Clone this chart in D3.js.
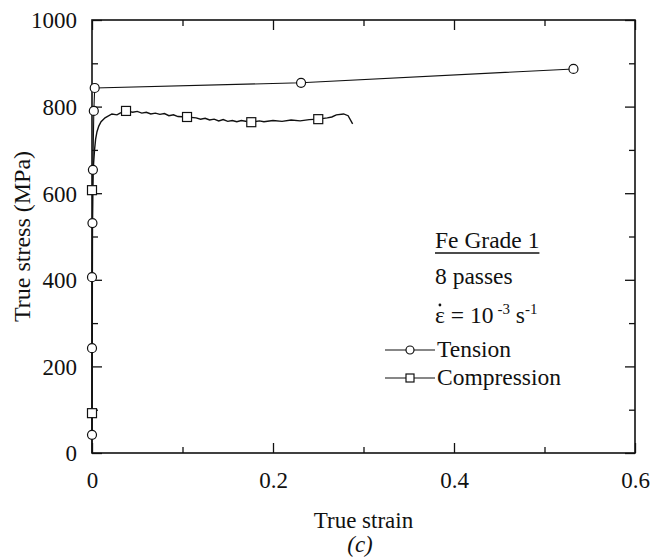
<!DOCTYPE html>
<html lang="en">
  <head>
    <meta charset="utf-8" />
    <title>True stress vs true strain</title>
    <script src="https://d3js.org/d3.v7.min.js"></script>
    <style type="text/css">
      body {
        margin: 0;
        background: #fff;
      }
      svg text {
        font-family: "Liberation Serif", "Times New Roman", serif;
        fill: #111;
      }
    </style>
  </head>
  <body>
    <svg id="chart" width="666" height="558"></svg>
    <script type="text/javascript">
      // axis ticks
      const strainTicks = [0, 0.2, 0.4, 0.6];
      const strainMinor = [0.1, 0.3, 0.5];
      const stressTicks = [0, 200, 400, 600, 800, 1000];
      const stressMinor = [100, 300, 500, 700, 900];

      // tension curve (circles on every point)
      const tensionStrain = [0, 0, 0, 0.0005, 0.001, 0.002, 0.003, 0.231, 0.532];
      const tensionStress = [42, 242, 406, 531, 654, 790, 843, 855, 887];

      // compression curve (continuous record)
      const compStrain = [0, 0, 0.0003, 0.0005, 0.0008, 0.0012, 0.0018, 0.0028, 0.004, 0.0055,
        0.0075, 0.01, 0.0144, 0.022, 0.0276, 0.031, 0.0376, 0.045, 0.05, 0.055, 0.06, 0.065,
        0.07, 0.075, 0.08, 0.085, 0.09, 0.095, 0.105, 0.115, 0.12, 0.125, 0.13, 0.135, 0.14,
        0.145, 0.15, 0.155, 0.16, 0.165, 0.176, 0.185, 0.19, 0.2, 0.21, 0.22, 0.23, 0.24,
        0.25, 0.26, 0.265, 0.27, 0.278, 0.283, 0.288];
      const compStress = [0, 92, 300, 500, 607, 645, 670, 700, 725, 742,
        755, 765, 774, 783, 781, 785, 790, 787, 789, 785, 787, 783,
        785, 782, 784, 779, 781, 777, 776, 774, 771, 773, 769, 771, 767,
        770, 766, 768, 765, 768, 764, 767, 765, 768, 766, 769, 767, 770,
        771, 774, 776, 781, 783, 779, 760];
      // square markers on compression curve
      const compMarkStrain = [0, 0, 0.0376, 0.105, 0.176, 0.25];
      const compMarkStress = [92, 607, 790, 776, 764, 771];

      const W = 666, H = 558;
      const margin = {top: 20, right: 31, bottom: 105, left: 92};
      const svg = d3.select("#chart");

      const x = d3.scaleLinear().domain([0, 0.6]).range([margin.left, W - margin.right]);
      const y = d3.scaleLinear().domain([0, 1000]).range([H - margin.bottom, margin.top]);

      const fmtX = d => d === 0 ? "0" : d3.format(".1f")(d);
      const fmtY = d => String(d);

      // major + minor ticks, drawn inward on all four sides
      function drawAxis(axisFn, scale, vals, size, transform, labels) {
        const a = axisFn(scale).tickValues(vals).tickSizeInner(-size).tickSizeOuter(0);
        if (!labels) a.tickFormat("");
        else a.tickFormat(scale === x ? fmtX : fmtY);
        const g = svg.append("g").attr("transform", transform).call(a);
        g.select(".domain").remove();
        g.selectAll("line").attr("stroke", "#111").attr("stroke-width", 1.3);
        return g;
      }
      const bottomY = H - margin.bottom, rightX = W - margin.right;
      const gx = drawAxis(d3.axisBottom, x, strainTicks, 10, `translate(0,${bottomY})`, true);
      drawAxis(d3.axisBottom, x, strainMinor, 6, `translate(0,${bottomY})`, false);
      drawAxis(d3.axisTop, x, strainTicks, 10, `translate(0,${margin.top})`, false);
      drawAxis(d3.axisTop, x, strainMinor, 6, `translate(0,${margin.top})`, false);
      const gy = drawAxis(d3.axisLeft, y, stressTicks, 10, `translate(${margin.left},0)`, true);
      drawAxis(d3.axisLeft, y, stressMinor, 6, `translate(${margin.left},0)`, false);
      drawAxis(d3.axisRight, y, stressTicks, 10, `translate(${rightX},0)`, false);
      drawAxis(d3.axisRight, y, stressMinor, 6, `translate(${rightX},0)`, false);

      gx.selectAll("text").attr("font-size", 23).attr("dy", null).attr("y", 35);
      gy.selectAll("text").attr("font-size", 23).attr("x", -15).attr("dy", "0.34em");

      // frame
      svg.append("rect")
        .attr("x", margin.left).attr("y", margin.top)
        .attr("width", rightX - margin.left).attr("height", bottomY - margin.top)
        .attr("fill", "none").attr("stroke", "#111").attr("stroke-width", 1.6);

      // axis titles
      svg.append("text")
        .attr("x", (margin.left + rightX) / 2).attr("y", 528)
        .attr("text-anchor", "middle").attr("font-size", 23)
        .text("True strain");
      svg.append("text")
        .attr("x", 360).attr("y", 552)
        .attr("text-anchor", "middle").attr("font-size", 23)
        .attr("font-style", "italic")
        .text("(c)");
      svg.append("text")
        .attr("transform", `translate(30,${(margin.top + bottomY) / 2}) rotate(-90)`)
        .attr("text-anchor", "middle").attr("font-size", 24)
        .text("True stress (MPa)");

      // curves
      const line = d3.line().x(d => x(d[0])).y(d => y(d[1]));
      const tension = d3.zip(tensionStrain, tensionStress);
      const comp = d3.zip(compStrain, compStress);
      const compMarks = d3.zip(compMarkStrain, compMarkStress);

      svg.append("path").datum(comp).attr("d", line)
        .attr("fill", "none").attr("stroke", "#111").attr("stroke-width", 1.4);
      svg.append("path").datum(tension).attr("d", line)
        .attr("fill", "none").attr("stroke", "#111").attr("stroke-width", 1.1);

      svg.selectAll("circle.t")
        .data(tension)
        .enter()
        .append("circle")
        .attr("class", "t")
        .attr("cx", d => x(d[0]))
        .attr("cy", d => y(d[1]))
        .attr("r", 4.5)
        .attr("fill", "#fff")
        .attr("stroke", "#111")
        .attr("stroke-width", 1.2);

      const sq = 9;
      svg.selectAll("rect.c")
        .data(compMarks)
        .enter()
        .append("rect")
        .attr("class", "c")
        .attr("x", d => x(d[0]) - sq / 2)
        .attr("y", d => y(d[1]) - sq / 2)
        .attr("width", sq).attr("height", sq)
        .attr("fill", "#fff")
        .attr("stroke", "#111")
        .attr("stroke-width", 1.2);

      // annotation block
      const tx = 435;
      const fe = svg.append("text").attr("x", tx).attr("y", 248).attr("font-size", 23.5).text("Fe Grade 1");
      const feW = fe.node().getComputedTextLength();
      svg.append("line").attr("x1", tx).attr("x2", tx + feW).attr("y1", 253).attr("y2", 253)
        .attr("stroke", "#111").attr("stroke-width", 1.3);
      svg.append("text").attr("x", tx).attr("y", 284).attr("font-size", 23.5).text("8 passes");

      const rate = svg.append("text").attr("x", tx).attr("y", 323).attr("font-size", 23.5);
      const eps = rate.append("tspan").text("\u03b5");
      rate.append("tspan").text(" = 10");
      rate.append("tspan").attr("dy", -9).attr("dx", 4).attr("font-size", 15).text("-3");
      rate.append("tspan").attr("dy", 9).attr("font-size", 23.5).text(" s");
      rate.append("tspan").attr("dy", -9).attr("font-size", 15).text("-1");
      const epsW = eps.node().getComputedTextLength();
      svg.append("circle").attr("cx", tx + epsW / 2).attr("cy", 305).attr("r", 1.4).attr("fill", "#111");

      // legend
      const legend = svg.append("g");
      [["Tension", 350], ["Compression", 378]].forEach(([name, ly], i) => {
        legend.append("line").attr("x1", 385).attr("x2", 435).attr("y1", ly).attr("y2", ly)
          .attr("stroke", "#111").attr("stroke-width", 1.1);
        if (i === 0) {
          legend.append("circle").attr("cx", 410).attr("cy", ly).attr("r", 4)
            .attr("fill", "#fff").attr("stroke", "#111").attr("stroke-width", 1.2);
        } else {
          legend.append("rect").attr("x", 406).attr("y", ly - 4).attr("width", 8).attr("height", 8)
            .attr("fill", "#fff").attr("stroke", "#111").attr("stroke-width", 1.2);
        }
        legend.append("text").attr("x", 437).attr("y", ly + 7).attr("font-size", 23.5).text(name);
      });
    </script>
  </body>
</html>
